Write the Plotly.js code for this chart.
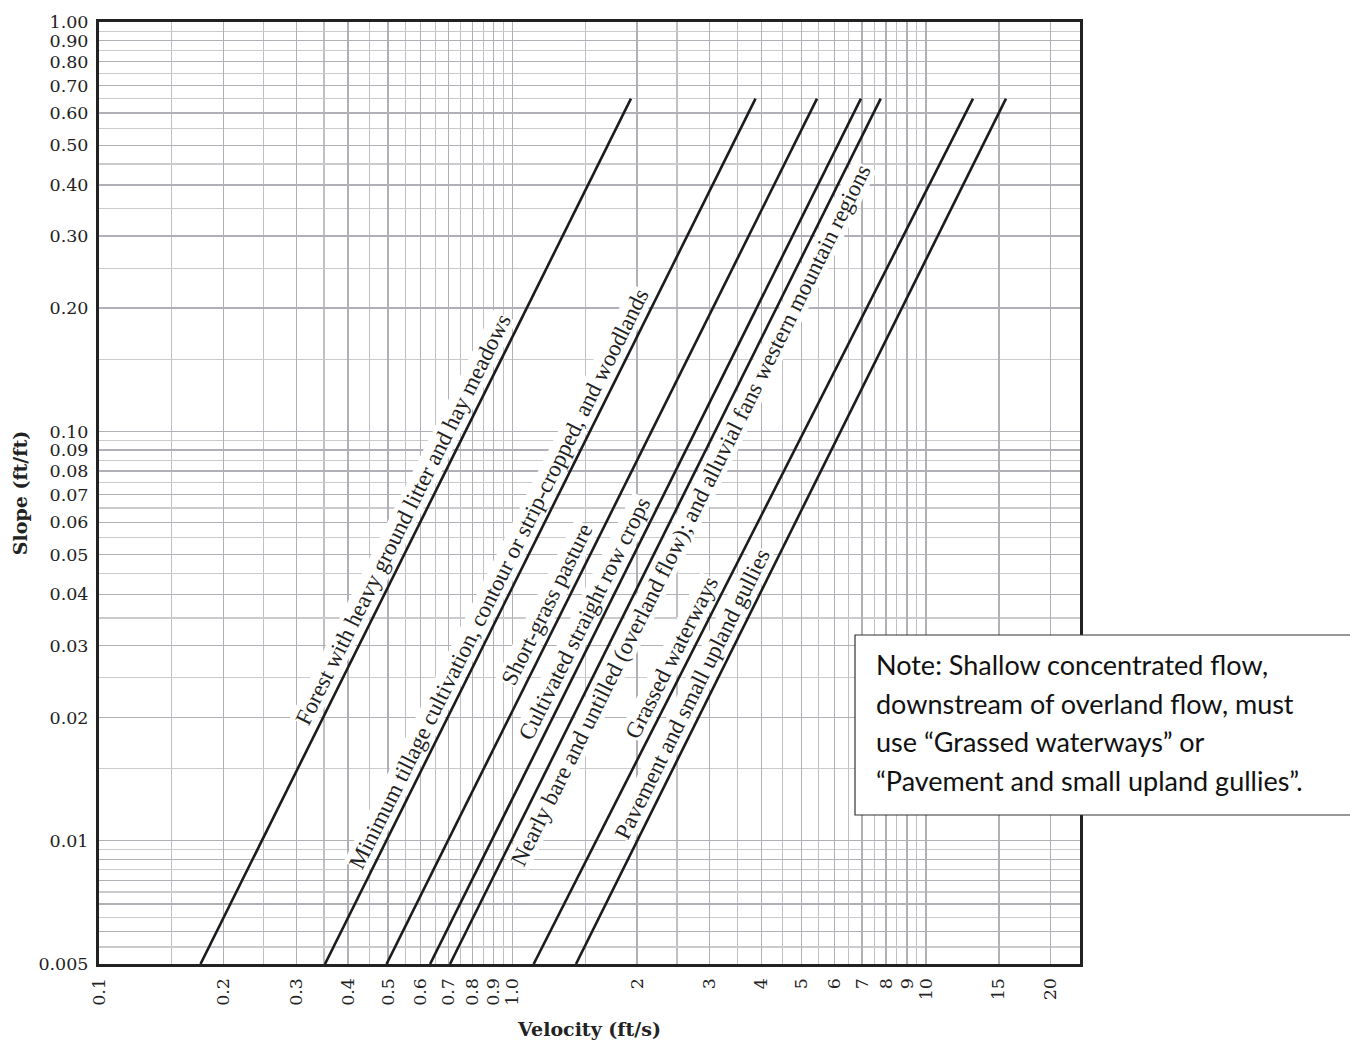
<!DOCTYPE html>
<html>
<head>
<meta charset="utf-8">
<script src="https://cdn.plot.ly/plotly-3.0.1.min.js"></script>
<style>html,body{margin:0;padding:0;background:#fff;}#chart{width:1350px;height:1041px;}</style>
</head>
<body>
<div id="chart"></div>
<script>
// ---- data ----
const lineNames = [
  "Forest with heavy ground litter and hay meadows",
  "Minimum tillage cultivation, contour or strip-cropped, and woodlands",
  "Short-grass pasture",
  "Cultivated straight row crops",
  "Nearly bare and untilled (overland flow); and alluvial fans western mountain regions",
  "Grassed waterways",
  "Pavement and small upland gullies"
];
const slopeEnds = [0.005, 0.65];
const velBottom = [0.176, 0.352, 0.496, 0.632, 0.706, 1.125, 1.424];
const velTop    = [1.934, 3.87, 5.45, 6.96, 7.77, 12.99, 15.61];
const labelSlope = [0.0608, 0.0438, 0.0377, 0.035, 0.0625, 0.0281, 0.0228];

const xTickVals = [0.1,0.2,0.3,0.4,0.5,0.6,0.7,0.8,0.9,1,2,3,4,5,6,7,8,9,10,15,20];
const xTickText = ["0.1","0.2","0.3","0.4","0.5","0.6","0.7","0.8","0.9","1.0","2","3","4","5","6","7","8","9","10","15","20"];
const xMinor = [0.15,0.25,0.35,0.45,0.55,0.65,0.75,0.85,0.95,1.5,2.5,3.5,4.5,5.5,6.5,7.5,8.5,9.5];

const yTickVals = [0.005,0.006,0.007,0.008,0.009,0.01,0.02,0.03,0.04,0.05,0.06,0.07,0.08,0.09,0.1,0.2,0.3,0.4,0.5,0.6,0.7,0.8,0.9,1.0];
const yTickText = ["0.005","","","","","0.01","0.02","0.03","0.04","0.05","0.06","0.07","0.08","0.09","0.10","0.20","0.30","0.40","0.50","0.60","0.70","0.80","0.90","1.00"];
const yMinor = [0.0055,0.0065,0.0075,0.0085,0.0095,0.015,0.025,0.035,0.045,0.055,0.065,0.075,0.085,0.095,0.15,0.25,0.35,0.45,0.55,0.65,0.75,0.85,0.95];

const noteLines = [
  "Note: Shallow concentrated flow,",
  "downstream of overland flow, must",
  "use \u201cGrassed waterways\u201d or",
  "\u201cPavement and small upland gullies\u201d."
];

// ---- layout geometry / style ----
const W = 1350, H = 1041;
const M = {l: 99, r: 270, t: 22, b: 77};
const pw = W - M.l - M.r, ph = H - M.t - M.b;
const xRange = [-1, -1 + pw / 413.5];
const yRange = [Math.log10(0.005), 0];
const pxPerX = pw / (xRange[1] - xRange[0]);
const pxPerY = ph / (yRange[1] - yRange[0]);
// which side of its line each label sits on (-1 = left/above, +1 = right/below)
const labelSide = [-1, -1, -1, -1, 1, -1, -1];
const labelGap = 18;

const lg = Math.log10;
const traces = lineNames.map((n, i) => ({
  type: 'scatter', mode: 'lines', name: n,
  x: [velBottom[i], velTop[i]], y: slopeEnds,
  line: {color: '#1c1c1c', width: 2.6},
  hoverinfo: 'skip', showlegend: false
}));

const annotations = lineNames.map((n, i) => {
  const t = (lg(labelSlope[i]) - lg(slopeEnds[0])) / (lg(slopeEnds[1]) - lg(slopeEnds[0]));
  const lx = lg(velBottom[i]) + t * (lg(velTop[i]) - lg(velBottom[i]));
  const sl = (lg(slopeEnds[1]) - lg(slopeEnds[0])) / (lg(velTop[i]) - lg(velBottom[i]));
  const ang = Math.atan(sl * pxPerY / pxPerX) * 180 / Math.PI;
  return {
    x: lx, y: lg(labelSlope[i]), xref: 'x', yref: 'y',
    text: n, showarrow: false, textangle: -ang,
    xshift: labelSide[i] * labelGap, yshift: 0,
    font: {family: 'Liberation Serif, Times New Roman, serif', size: 23, color: '#222'},
    bgcolor: 'white', borderpad: 0
  };
});

// note box
const boxL = 855, boxT = 635, boxB = 815;
const px2paperX = p => (p - M.l) / pw;
const px2paperY = p => (H - M.b - p) / ph;
const noteCenters = [664, 703, 741, 780];
noteLines.forEach((s, i) => {
  annotations.push({
    xref: 'paper', yref: 'paper', x: px2paperX(874), y: px2paperY(noteCenters[i]),
    xanchor: 'left', yanchor: 'middle', align: 'left', showarrow: false,
    text: s, font: {family: 'Lato, Open Sans, sans-serif', size: 27, color: '#111'}
  });
});

const tickFont = {family: 'DejaVu Serif, serif', size: 17.5, color: '#222'};
const titleFont = {family: 'DejaVu Serif, serif', size: 19, color: '#222'};
const layout = {
  width: W, height: H, margin: M,
  paper_bgcolor: '#fff', plot_bgcolor: '#fff',
  showlegend: false,
  xaxis: {
    type: 'log', range: xRange, fixedrange: true,
    tickmode: 'array', tickvals: xTickVals, ticktext: xTickText,
    tickangle: -90, tickfont: tickFont, ticks: '', ticklabelstandoff: 4,
    showgrid: true, gridcolor: '#b0b0b6', gridwidth: 1.4,
    minor: {tickmode: 'array', tickvals: xMinor, showgrid: true, gridcolor: '#c0c0c4', gridwidth: 1.2, ticks: ''},
    showline: true, mirror: true, linecolor: '#222', linewidth: 3,
    zeroline: false, automargin: false,
    title: {text: '<b>Velocity (ft/s)</b>', font: titleFont, standoff: 18}
  },
  yaxis: {
    type: 'log', range: yRange, fixedrange: true,
    tickmode: 'array', tickvals: yTickVals, ticktext: yTickText,
    tickfont: tickFont, ticks: '', ticklabelstandoff: 4,
    showgrid: true, gridcolor: '#b0b0b6', gridwidth: 1.4,
    minor: {tickmode: 'array', tickvals: yMinor, showgrid: true, gridcolor: '#cbcbce', gridwidth: 1.2, ticks: ''},
    showline: true, mirror: true, linecolor: '#222', linewidth: 3,
    zeroline: false, automargin: false,
    title: {text: '<b>Slope (ft/ft)</b>', font: titleFont, standoff: 6}
  },
  shapes: [{
    type: 'rect', xref: 'paper', yref: 'paper', layer: 'above',
    x0: px2paperX(boxL), x1: px2paperX(W + 5), y0: px2paperY(boxB), y1: px2paperY(boxT),
    fillcolor: '#fff', line: {color: '#333', width: 1.2}
  }],
  annotations: annotations
};

Plotly.newPlot('chart', traces, layout, {displayModeBar: false, staticPlot: true});
</script>
</body>
</html>
